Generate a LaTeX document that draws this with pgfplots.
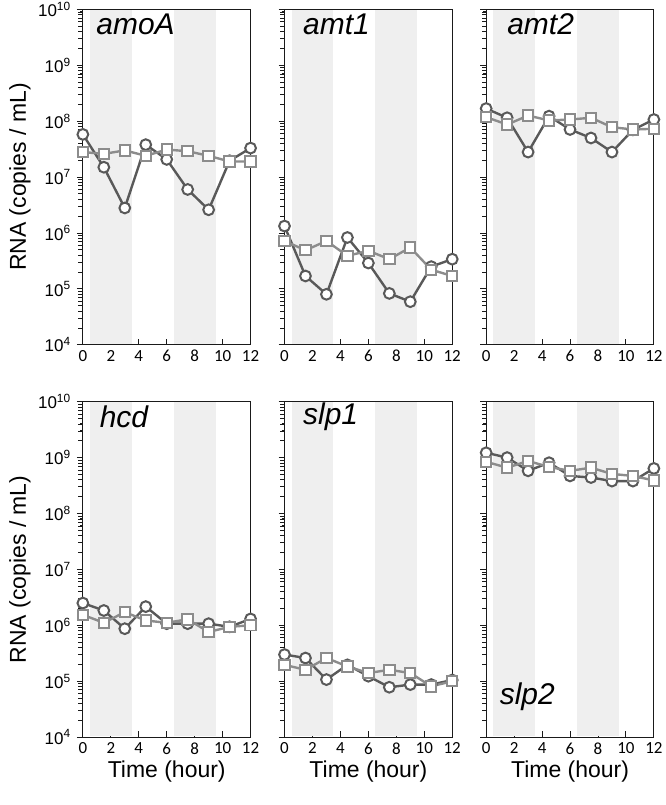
\documentclass[border=0pt]{standalone}
\usepackage{fontspec}
\setmainfont{Liberation Sans}
\newfontfamily\calibri{Carlito}
\usepackage{pgfplots}
\pgfplotsset{compat=1.18}
\usepgfplotslibrary{groupplots}
\definecolor{circgrey}{HTML}{595959}
\definecolor{sqgrey}{HTML}{8C8C8C}
\definecolor{shadegrey}{HTML}{EFEFEF}
\definecolor{axisgrey}{HTML}{1A1A1A}

\pgfplotsset{
  circ/.style={circgrey, line width=2.4pt, mark=*, mark size=5.4pt,
    mark options={fill=white, draw=circgrey, line width=2pt}},
  sq/.style={sqgrey, line width=2.4pt, mark=square*, mark size=5.2pt,
    mark options={fill=white, draw=sqgrey, line width=2pt}},
}
% light / dark period bands, kept just inside the frame lines
\newcommand{\bands}{%
  \fill[shadegrey] (axis cs:0.5,1.03e4) rectangle (axis cs:3.5,9.7e9);
  \fill[shadegrey] (axis cs:6.5,1.03e4) rectangle (axis cs:9.5,9.7e9);
}
% log minor ticks on the left axis, drawn as short horizontal combs
\newcommand{\minorticks}{%
  \addplot[xcomb, axisgrey, line width=0.8pt, no marks, forget plot] coordinates {
    (-0.32,2e4) (-0.32,3e4) (-0.32,4e4) (-0.32,5e4) (-0.32,6e4) (-0.32,7e4) (-0.32,8e4) (-0.32,9e4)
    (-0.32,2e5) (-0.32,3e5) (-0.32,4e5) (-0.32,5e5) (-0.32,6e5) (-0.32,7e5) (-0.32,8e5) (-0.32,9e5)
    (-0.32,2e6) (-0.32,3e6) (-0.32,4e6) (-0.32,5e6) (-0.32,6e6) (-0.32,7e6) (-0.32,8e6) (-0.32,9e6)
    (-0.32,2e7) (-0.32,3e7) (-0.32,4e7) (-0.32,5e7) (-0.32,6e7) (-0.32,7e7) (-0.32,8e7) (-0.32,9e7)
    (-0.32,2e8) (-0.32,3e8) (-0.32,4e8) (-0.32,5e8) (-0.32,6e8) (-0.32,7e8) (-0.32,8e8) (-0.32,9e8)
    (-0.32,2e9) (-0.32,3e9) (-0.32,4e9) (-0.32,5e9) (-0.32,6e9) (-0.32,7e9) (-0.32,8e9) (-0.32,9e9)
    (-0.43,1e5) (-0.43,1e6) (-0.43,1e7) (-0.43,1e8) (-0.43,1e9)};
}
\newcommand{\gene}[3]{\node[anchor=west, inner sep=0pt, font=\itshape\fontsize{30}{30}\selectfont] at (rel axis cs:#1,#2) {#3};}

\begin{document}
\begin{tikzpicture}
\begin{groupplot}[
  group style={group size=3 by 2, horizontal sep=34pt, vertical sep=57pt,
    yticklabels at=edge left, ylabels at=edge left, xlabels at=edge bottom},
  width=168pt, height=336pt, scale only axis, clip=false,
  ymode=log, ymin=1e4, ymax=1e10,
  ytick={1e4,1e5,1e6,1e7,1e8,1e9,1e10},
  yticklabels={10\textsuperscript{4},10\textsuperscript{5},10\textsuperscript{6},
    10\textsuperscript{7},10\textsuperscript{8},10\textsuperscript{9},10\textsuperscript{10}},
  xmin=0, xmax=12, xtick={0,2,...,12},
  xtick pos=bottom, ytick pos=left,
  tick align=outside,
  major tick length=6pt,
  tick style={axisgrey, line width=0.9pt},
  xtick style={yshift=6pt},
  axis line style={axisgrey, line width=1.2pt},
  yticklabel style={font=\fontsize{17}{17}\selectfont, inner sep=2pt, xshift=-4pt},
  xticklabel style={font=\calibri\fontsize{17}{17}\selectfont, yshift=4pt},
  /pgf/number format/assume math mode=true,
  ylabel={RNA (copies / mL)},
  ylabel style={font=\fontsize{23}{27}\selectfont, yshift=2pt},
  xlabel={Time (hour)},
  xlabel style={font=\fontsize{23}{27}\selectfont, yshift=0pt},
]
% amoA
\nextgroupplot
\bands
\minorticks
\addplot[circ] coordinates {(0,5.8e7) (1.5,1.5e7) (3,2.8e6) (4.5,3.8e7) (6,2.07e7) (7.5,6.0e6) (9,2.6e6) (10.5,1.96e7) (12,3.3e7)};
\addplot[sq] coordinates {(0,2.8e7) (1.5,2.6e7) (3,3.0e7) (4.5,2.4e7) (6,3.1e7) (7.5,2.9e7) (9,2.4e7) (10.5,1.9e7) (12,1.9e7)};
\gene{0.08}{0.955}{amoA}
% amt1
\nextgroupplot
\bands
\minorticks
\addplot[circ] coordinates {(0,1.33e6) (1.5,1.7e5) (3,8.0e4) (4.5,8.3e5) (6,2.9e5) (7.5,8.3e4) (9,5.9e4) (10.5,2.5e5) (12,3.4e5)};
\addplot[sq] coordinates {(0,7.2e5) (1.5,4.9e5) (3,7.2e5) (4.5,3.9e5) (6,4.8e5) (7.5,3.4e5) (9,5.5e5) (10.5,2.2e5) (12,1.7e5)};
\gene{0.11}{0.955}{amt1}
% amt2
\nextgroupplot
\bands
\minorticks
\addplot[circ] coordinates {(0,1.68e8) (1.5,1.15e8) (3,2.8e7) (4.5,1.23e8) (6,7.1e7) (7.5,5.0e7) (9,2.8e7) (10.5,7.0e7) (12,1.07e8)};
\addplot[sq] coordinates {(0,1.18e8) (1.5,8.7e7) (3,1.26e8) (4.5,1.03e8) (6,1.07e8) (7.5,1.15e8) (9,7.8e7) (10.5,7.1e7) (12,7.3e7)};
\gene{0.125}{0.955}{amt2}
% hcd
\nextgroupplot
\bands
\minorticks
\addplot[circ] coordinates {(0,2.5e6) (1.5,1.84e6) (3,8.7e5) (4.5,2.16e6) (6,1.07e6) (7.5,1.07e6) (9,1.07e6) (10.5,9.4e5) (12,1.3e6)};
\addplot[sq] coordinates {(0,1.54e6) (1.5,1.11e6) (3,1.72e6) (4.5,1.22e6) (6,1.11e6) (7.5,1.28e6) (9,7.6e5) (10.5,9.4e5) (12,1.0e6)};
\gene{0.1}{0.955}{hcd}
% slp1
\nextgroupplot
\bands
\minorticks
\addplot[circ] coordinates {(0,3.0e5) (1.5,2.6e5) (3,1.07e5) (4.5,1.96e5) (6,1.23e5) (7.5,7.8e4) (9,8.7e4) (10.5,8.7e4) (12,1.05e5)};
\addplot[sq] coordinates {(0,1.96e5) (1.5,1.6e5) (3,2.6e5) (4.5,1.84e5) (6,1.4e5) (7.5,1.6e5) (9,1.4e5) (10.5,8.1e4) (12,1.0e5)};
\gene{0.11}{0.955}{slp1}
% slp2
\nextgroupplot
\bands
\minorticks
\addplot[circ] coordinates {(0,1.22e9) (1.5,1.0e9) (3,5.8e8) (4.5,8.1e8) (6,4.7e8) (7.5,4.4e8) (9,3.8e8) (10.5,3.8e8) (12,6.4e8)};
\addplot[sq] coordinates {(0,8.4e8) (1.5,6.6e8) (3,8.7e8) (4.5,6.8e8) (6,5.8e8) (7.5,6.6e8) (9,5.1e8) (10.5,4.7e8) (12,3.9e8)};
\gene{0.08}{0.12}{slp2}
\end{groupplot}
\path (group c1r1.north west) ++(-83pt,8pt) rectangle ++(666pt,-805pt);
\end{tikzpicture}
\end{document}
